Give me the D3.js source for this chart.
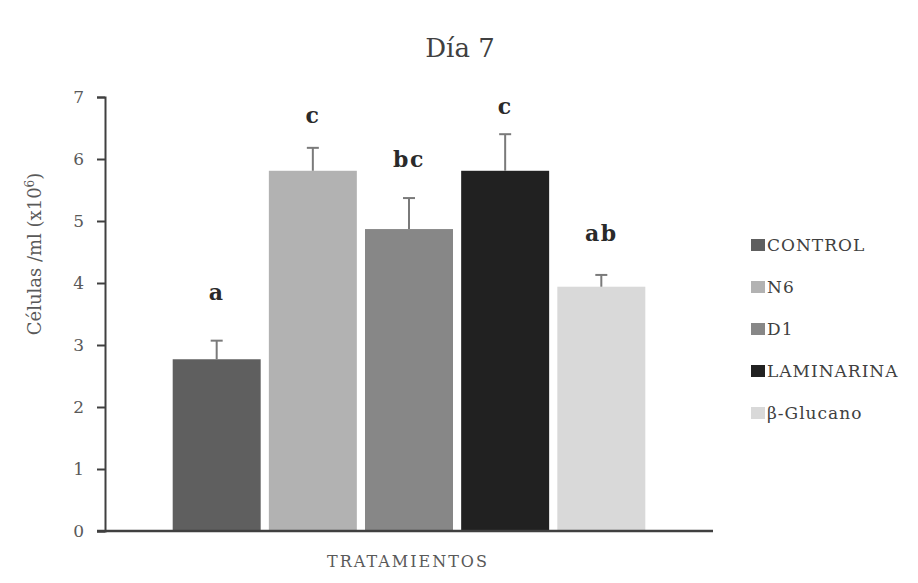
<!DOCTYPE html>
<html><head><meta charset="utf-8">
<script src="https://cdn.jsdelivr.net/npm/d3@7"></script>
<style>body{margin:0;background:#fff}</style>
</head><body><svg id="c" width="918" height="583"></svg>
<script>
const categories = ["CONTROL", "N6", "D1", "LAMINARINA", "β-Glucano"];
const values = [2.77, 5.81, 4.87, 5.81, 3.94];
const errors = [0.30, 0.37, 0.50, 0.59, 0.19];
const letters = ["a", "c", "bc", "c", "ab"];
const letterPos = [3.73, 6.58, 5.87, 6.73, 4.67];
const colors = ["#5f5f5f", "#b2b2b2", "#878787", "#212121", "#d9d9d9"];
const yTicks = [0, 1, 2, 3, 4, 5, 6, 7];

const font = "'DejaVu Serif', 'Liberation Serif', serif";
const svg = d3.select("#c");
const m = {l: 105, r: 713, t: 97, b: 531};
const x = d3.scaleBand().domain(categories).range([m.l, m.r]).paddingInner(0.085).paddingOuter(0.704);
const y = d3.scaleLinear().domain([0, 7]).range([m.b, m.t]);

// title
svg.append("text").attr("x", 460).attr("y", 57).attr("text-anchor", "middle")
  .attr("font-family", font).attr("font-size", 26).attr("fill", "#404040").text("Día 7");

// bars
svg.selectAll("rect.bar").data(categories).join("rect").attr("class", "bar")
  .attr("x", d => x(d)).attr("width", x.bandwidth())
  .attr("y", (d, i) => y(values[i])).attr("height", (d, i) => y(0) - y(values[i]))
  .attr("fill", (d, i) => colors[i]);

// error bars
const eg = svg.append("g").attr("stroke", "#7a7a7a").attr("stroke-width", 2);
categories.forEach((d, i) => {
  const cx = x(d) + x.bandwidth() / 2;
  eg.append("line").attr("x1", cx).attr("x2", cx).attr("y1", y(values[i])).attr("y2", y(values[i] + errors[i]));
  eg.append("line").attr("x1", cx - 6).attr("x2", cx + 6).attr("y1", y(values[i] + errors[i])).attr("y2", y(values[i] + errors[i]));
});

// significance letters
svg.selectAll("text.sig").data(categories).join("text").attr("class", "sig")
  .attr("x", d => x(d) + x.bandwidth() / 2).attr("y", (d, i) => y(letterPos[i]))
  .attr("text-anchor", "middle").attr("font-family", font).attr("font-size", 22)
  .attr("font-weight", "bold").attr("fill", "#2a2a2a").attr("letter-spacing", 1.5)
  .text((d, i) => letters[i]);

// y axis
const ya = svg.append("g").attr("transform", `translate(${m.l},0)`)
  .call(d3.axisLeft(y).tickValues(yTicks).tickSize(8).tickSizeOuter(8).tickFormat(d3.format("d")));
ya.select(".domain").attr("stroke", "#404040").attr("stroke-width", 2);
ya.selectAll(".tick line").attr("stroke", "#404040").attr("stroke-width", 2);
ya.selectAll(".tick text").attr("font-family", font).attr("font-size", 17).attr("fill", "#595959").attr("x", -21);

// x axis line
svg.append("line").attr("x1", m.l - 8).attr("x2", m.r).attr("y1", y(0)).attr("y2", y(0))
  .attr("stroke", "#404040").attr("stroke-width", 2.5);

// axis titles
svg.append("text").attr("transform", "translate(41,254) rotate(-90)").attr("text-anchor", "middle")
  .attr("font-family", font).attr("font-size", 18).attr("fill", "#595959")
  .html("Células /ml (x10<tspan baseline-shift='super' font-size='12'>6</tspan>)");
svg.append("text").attr("x", 408).attr("y", 567).attr("text-anchor", "middle")
  .attr("font-family", font).attr("font-size", 16).attr("fill", "#595959").attr("letter-spacing", 2).text("TRATAMIENTOS");

// legend
const lg = svg.append("g").attr("transform", "translate(751,245)");
categories.forEach((d, i) => {
  const g = lg.append("g").attr("transform", `translate(0,${i * 42})`);
  g.append("rect").attr("x", 0).attr("y", -6).attr("width", 14).attr("height", 12).attr("fill", colors[i]);
  g.append("text").attr("x", 16).attr("y", 6).attr("font-family", font).attr("font-size", 17)
    .attr("fill", "#404040").attr("letter-spacing", 1).text(d);
});
</script></body></html>
